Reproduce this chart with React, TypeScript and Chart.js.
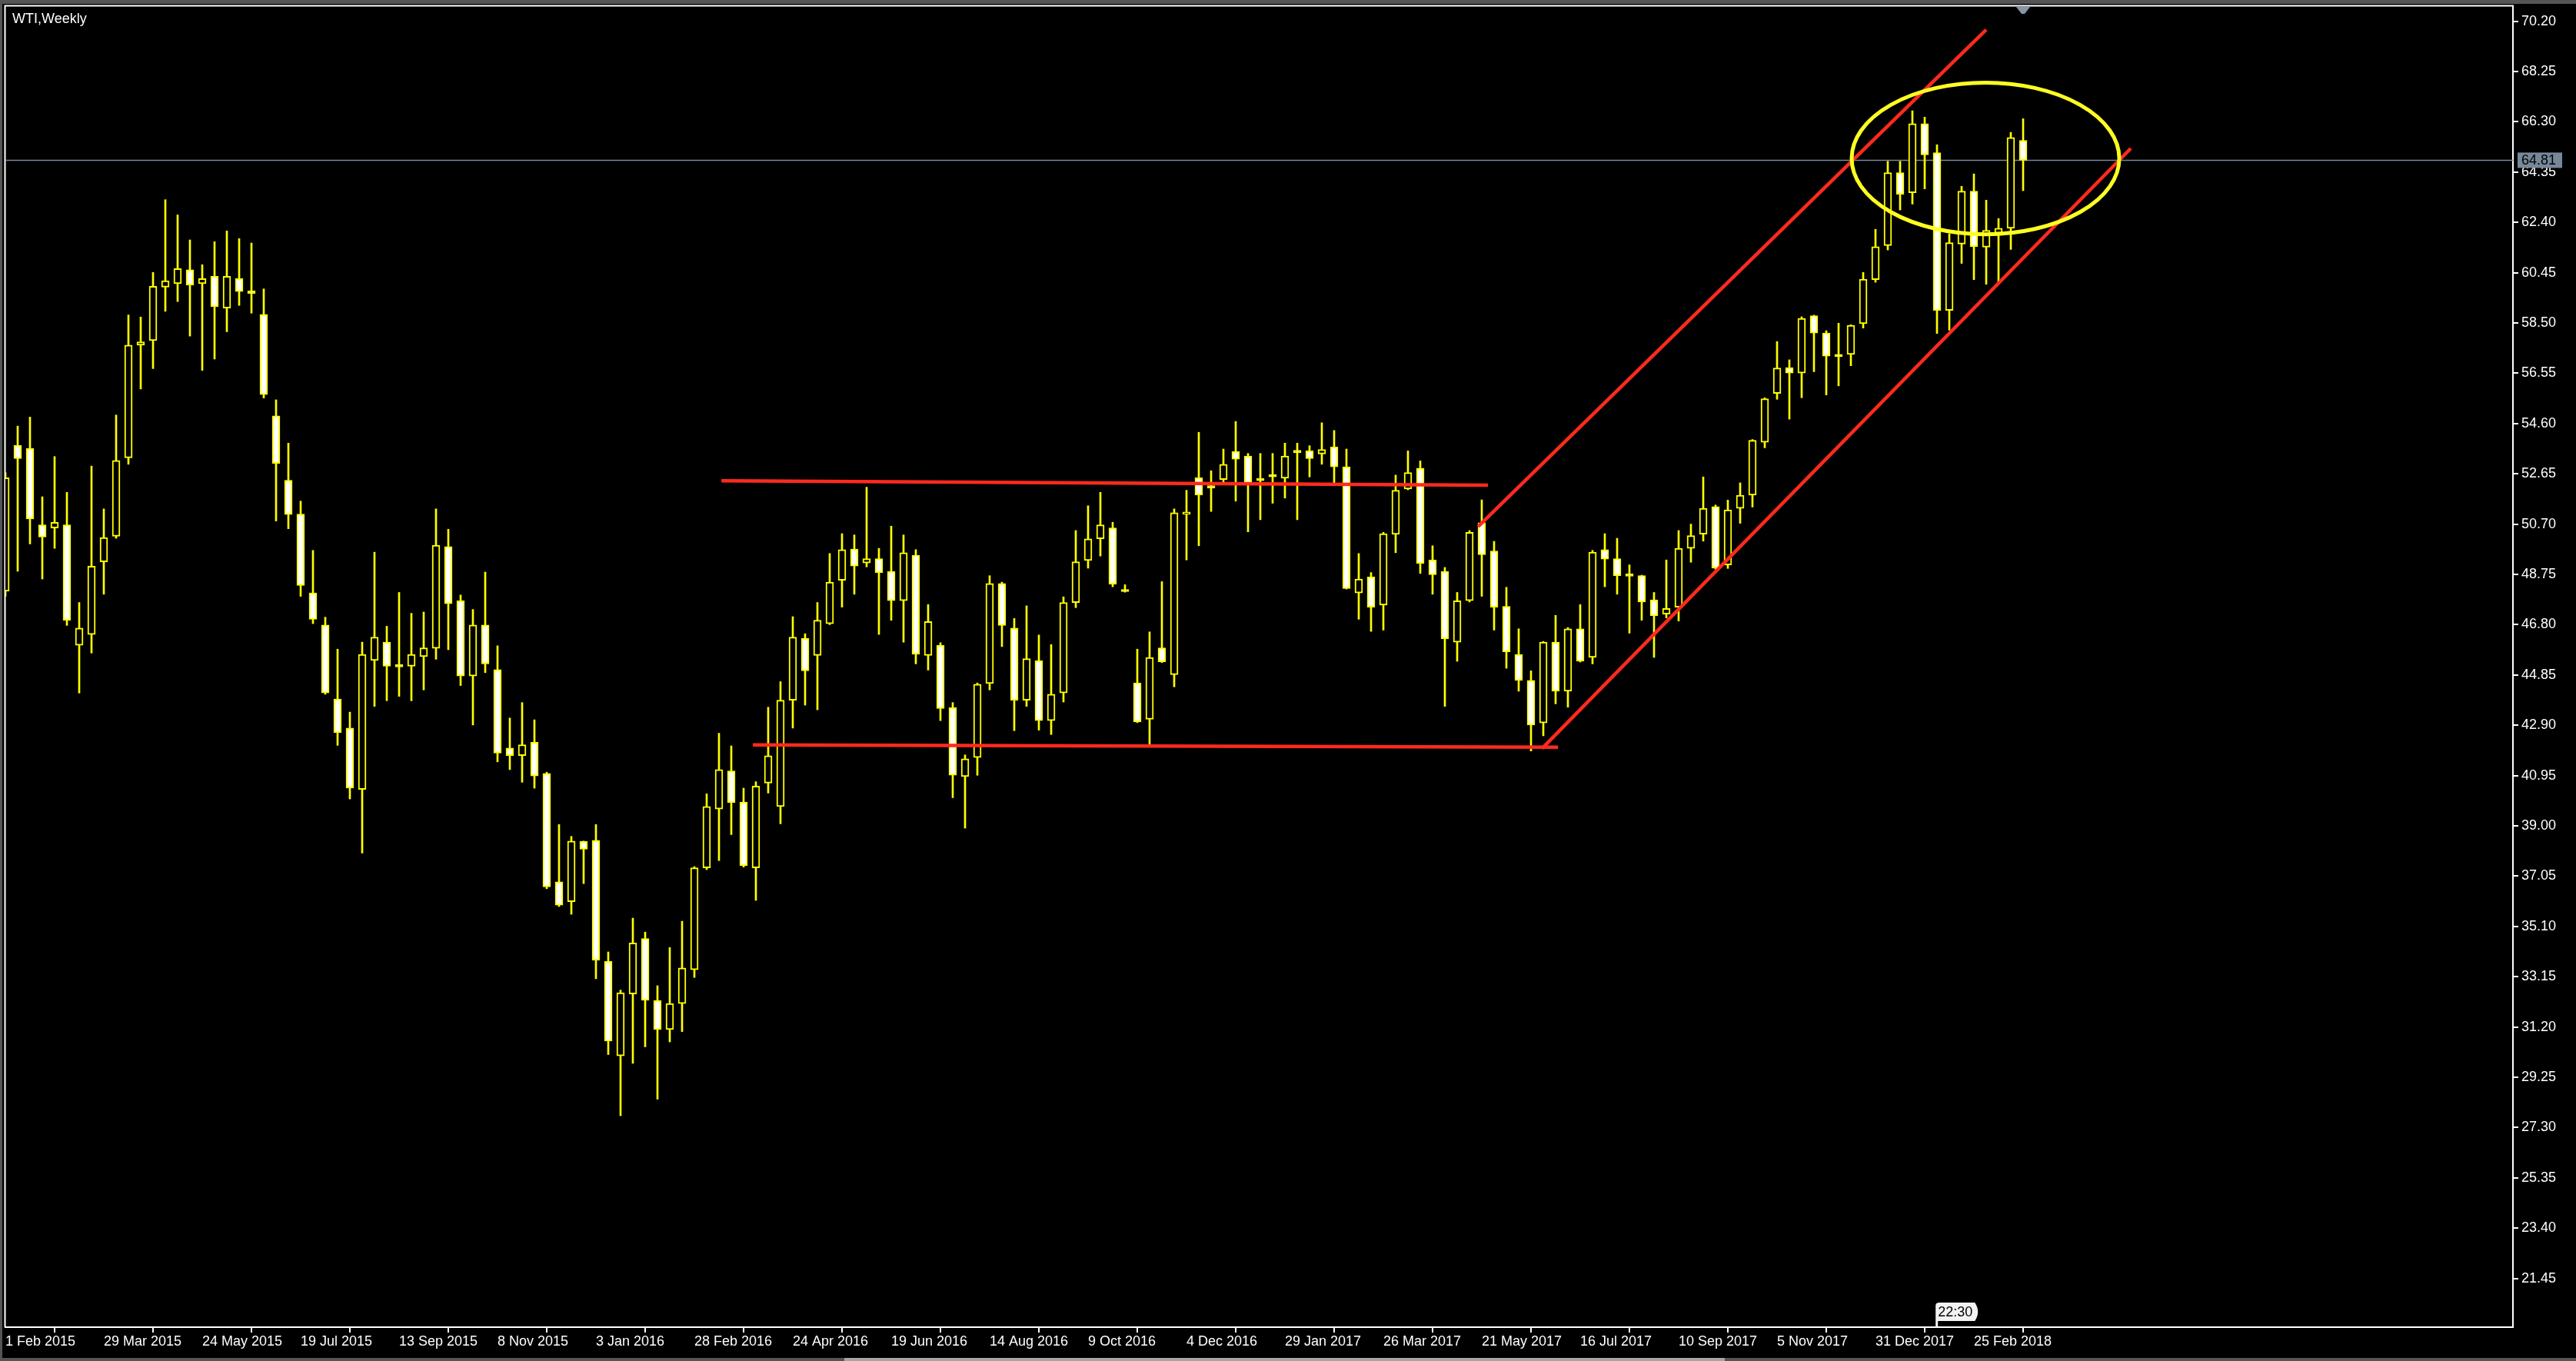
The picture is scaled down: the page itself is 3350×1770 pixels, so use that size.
import React, { useEffect, useRef } from 'react';
import { Chart, registerables } from 'chart.js';

Chart.register(...registerables);

// ---- Weekly WTI candles (index 0 = week of 1 Feb 2015) ----
const opens = [
  48.10, 53.76, 53.64, 50.67, 50.55, 50.67, 46.00, 46.42, 49.24, 50.23,
  53.27, 57.64, 57.82, 59.89, 60.02, 60.56, 60.02, 60.31, 59.08, 60.22,
  59.74, 58.83, 54.90, 52.40, 51.09, 48.03, 46.79, 43.92, 42.79, 40.41,
  45.41, 46.12, 45.24, 45.19, 45.56, 45.88, 49.83, 47.73, 44.81, 46.79,
  45.06, 42.02, 41.72, 42.24, 41.03, 36.83, 36.06, 38.39, 38.44, 33.74,
  30.08, 32.48, 34.63, 32.23, 31.10, 32.11, 33.42, 37.37, 39.65, 41.13,
  39.92, 37.37, 40.66, 39.75, 43.87, 46.27, 45.61, 46.84, 48.52, 49.73,
  49.19, 49.36, 48.87, 47.73, 49.49, 45.61, 46.00, 43.58, 40.91, 41.65,
  44.52, 48.40, 46.67, 43.87, 45.41, 43.08, 44.15, 47.66, 49.29, 50.13,
  50.55, 48.12, 44.54, 43.13, 45.90, 44.86, 51.08, 52.50, 52.15, 52.43,
  53.52, 53.34, 52.42, 52.57, 52.48, 53.51, 53.54, 53.42, 53.69, 52.92,
  48.03, 48.65, 47.56, 50.30, 52.06, 52.87, 49.31, 48.87, 46.12, 47.73,
  50.75, 49.66, 47.51, 45.65, 44.64, 42.99, 46.12, 44.22, 46.64, 45.53,
  49.71, 49.36, 48.72, 48.70, 47.76, 47.21, 47.48, 49.76, 50.31, 51.38,
  49.12, 51.31, 51.82, 53.87, 55.77, 56.77, 56.56, 58.78, 58.11, 57.23,
  57.28, 58.47, 60.18, 61.50, 64.33, 63.55, 66.23, 65.10, 58.99, 61.56,
  63.61, 61.44, 61.98, 62.17, 65.58,
];
const highs = [
  52.70, 54.50, 54.85, 51.76, 53.32, 51.93, 47.66, 52.95, 51.29, 54.93,
  58.81, 58.73, 60.46, 63.28, 62.69, 61.72, 60.76, 61.65, 62.07, 61.77,
  61.60, 59.82, 55.52, 53.84, 51.59, 49.68, 47.09, 45.85, 43.41, 46.12,
  49.61, 46.74, 48.05, 47.24, 47.29, 51.29, 50.50, 47.95, 47.39, 48.84,
  45.98, 43.18, 43.78, 43.11, 41.08, 39.05, 38.59, 38.41, 39.05, 34.11,
  32.63, 35.42, 34.88, 32.80, 34.28, 35.30, 37.42, 40.24, 42.59, 42.10,
  40.46, 40.71, 43.60, 44.59, 47.11, 46.45, 47.66, 49.56, 50.33, 50.28,
  52.13, 49.76, 50.62, 50.28, 49.71, 47.58, 46.10, 43.78, 41.75, 44.54,
  48.70, 48.45, 47.04, 47.53, 46.40, 46.03, 47.88, 50.45, 51.41, 51.93,
  50.77, 48.35, 45.85, 46.52, 48.47, 51.29, 52.01, 54.26, 52.77, 53.61,
  54.68, 53.44, 53.44, 53.44, 53.84, 53.84, 53.74, 54.63, 54.33, 53.61,
  49.56, 48.82, 50.38, 52.60, 53.54, 53.15, 49.86, 49.02, 48.05, 50.45,
  51.64, 50.03, 48.25, 46.64, 45.01, 46.15, 47.16, 46.69, 47.58, 49.68,
  50.33, 50.15, 49.12, 48.72, 48.05, 49.31, 50.45, 50.70, 52.53, 51.44,
  51.63, 52.30, 53.98, 55.60, 57.78, 57.07, 58.74, 58.80, 58.20, 58.49,
  58.43, 60.46, 62.13, 64.77, 64.77, 66.73, 66.48, 65.41, 61.96, 63.80,
  64.28, 63.26, 62.55, 65.89, 66.42,
];
const lows = [
  47.90, 48.87, 49.93, 48.57, 49.76, 46.77, 44.15, 45.70, 47.98, 50.15,
  53.02, 55.94, 56.73, 58.95, 59.33, 57.99, 56.66, 57.10, 58.16, 59.18,
  58.88, 55.59, 50.82, 50.52, 47.90, 46.84, 44.10, 42.12, 40.04, 37.94,
  43.63, 43.85, 44.02, 43.85, 44.27, 45.46, 45.83, 44.44, 42.91, 44.94,
  41.48, 41.18, 40.69, 40.46, 36.56, 35.87, 35.57, 36.76, 33.07, 30.13,
  27.76, 29.79, 30.43, 28.40, 30.62, 31.02, 33.12, 37.30, 37.65, 38.66,
  37.40, 36.11, 40.27, 39.08, 42.79, 43.68, 43.50, 46.80, 47.48, 47.98,
  49.04, 46.42, 46.97, 46.12, 45.28, 45.04, 43.08, 40.09, 38.91, 40.96,
  44.27, 45.95, 42.69, 43.63, 42.71, 42.54, 43.80, 47.46, 48.99, 49.46,
  48.27, 48.06, 43.00, 42.17, 45.33, 44.39, 49.31, 49.86, 51.19, 52.33,
  51.59, 50.40, 50.87, 51.51, 51.71, 50.87, 52.53, 53.02, 52.30, 48.18,
  47.01, 46.54, 46.59, 49.59, 52.03, 48.79, 47.98, 43.63, 45.38, 47.68,
  47.90, 46.59, 45.11, 44.22, 41.90, 42.49, 43.73, 43.60, 45.35, 45.28,
  48.27, 47.98, 46.47, 46.97, 45.53, 47.06, 46.94, 49.22, 50.04, 48.95,
  48.98, 50.73, 51.36, 53.66, 55.54, 54.77, 55.60, 56.61, 55.71, 56.06,
  56.84, 58.30, 60.08, 61.33, 62.88, 63.11, 63.70, 58.09, 58.22, 60.81,
  60.18, 60.00, 60.10, 61.35, 63.63,
];
const closes = [
  52.50, 53.24, 50.90, 50.20, 50.77, 46.97, 46.67, 49.07, 50.18, 53.17,
  57.64, 57.77, 59.92, 60.14, 60.61, 59.97, 60.22, 59.13, 60.31, 59.72,
  59.64, 55.72, 53.05, 51.07, 48.32, 47.01, 44.15, 42.61, 40.46, 45.65,
  46.32, 45.19, 45.16, 45.65, 45.90, 49.88, 47.61, 44.81, 46.79, 45.28,
  41.82, 41.72, 42.14, 40.93, 36.63, 35.92, 38.41, 38.09, 33.79, 30.65,
  32.53, 34.46, 32.23, 31.10, 32.11, 33.49, 37.37, 39.75, 41.18, 39.90,
  37.45, 40.54, 41.72, 43.87, 46.32, 45.01, 46.97, 48.45, 49.71, 49.07,
  49.36, 48.82, 47.73, 49.59, 45.65, 46.92, 43.55, 40.96, 41.60, 44.49,
  48.40, 46.77, 43.87, 45.48, 43.08, 44.10, 47.66, 49.24, 50.13, 50.67,
  48.37, 48.08, 43.03, 45.53, 45.36, 51.14, 51.12, 51.83, 52.10, 53.02,
  53.22, 52.30, 52.38, 52.53, 53.34, 53.47, 53.24, 53.59, 52.92, 48.20,
  48.57, 47.48, 50.33, 52.01, 52.70, 49.17, 48.74, 46.25, 47.73, 50.38,
  49.51, 47.48, 45.75, 44.64, 42.91, 46.12, 44.22, 46.64, 45.38, 49.61,
  49.34, 48.70, 48.68, 47.68, 47.14, 47.43, 49.76, 50.25, 51.31, 48.99,
  51.25, 51.82, 53.95, 55.56, 56.75, 56.56, 58.68, 58.11, 57.21, 57.19,
  58.41, 60.20, 61.46, 64.33, 63.49, 66.23, 65.02, 58.99, 61.61, 63.61,
  61.46, 62.09, 62.17, 65.69, 64.81,
];

// ---- Axis labels ----
const dateTickLabels = [
  '1 Feb 2015', '29 Mar 2015', '24 May 2015', '19 Jul 2015', '13 Sep 2015',
  '8 Nov 2015', '3 Jan 2016', '28 Feb 2016', '24 Apr 2016', '19 Jun 2016',
  '14 Aug 2016', '9 Oct 2016', '4 Dec 2016', '29 Jan 2017', '26 Mar 2017',
  '21 May 2017', '16 Jul 2017', '10 Sep 2017', '5 Nov 2017', '31 Dec 2017',
  '25 Feb 2018',
];
const barsPerDateTick = 8;
const priceTickLabels = [
  '21.45', '23.40', '25.35', '27.30', '29.25', '31.20', '33.15', '35.10', '37.05',
  '39.00', '40.95', '42.90', '44.85', '46.80', '48.75', '50.70', '52.65', '54.60',
  '56.55', '58.50', '60.45', '62.40', '64.35', '66.30', '68.25', '70.20',
];
const priceMin = 19.559;
const priceMax = 70.755;
const barMin = 0;
const barMax = 203.8125;
const chartTitle = 'WTI,Weekly';
const currentPrice = 64.81;
const timeMarker = { bar: 156.95, label: '22:30' };

// ---- Drawn objects (bar index, price) ----
const resistanceLine = [{ x: 58.2, y: 52.38 }, { x: 120.5, y: 52.21 }];
const supportLine = [{ x: 60.75, y: 42.14 }, { x: 126.2, y: 42.05 }];
const channelUpper = [{ x: 119.7, y: 50.6 }, { x: 161.0, y: 69.87 }];
const channelLower = [{ x: 124.9, y: 42.0 }, { x: 172.75, y: 65.27 }];
const ellipseCenter = { x: 160.94, y: 64.88 };
const ellipseRadius = { x: 10.875, y: 2.94 };

const FONT = '"Liberation Sans", Arial, sans-serif';
const YELLOW = '#ffff00';
const RED = '#ff2a1e';
const SLATE = '#778899';

const mt4Plugin = {
  id: 'mt4',
  beforeDraw(chart: any) {
    const { ctx, width, height, chartArea } = chart;
    ctx.save();
    ctx.fillStyle = '#000000';
    ctx.fillRect(0, 0, width, height);
    ctx.fillStyle = '#555555';
    ctx.fillRect(0, 0, width, 5);
    ctx.fillRect(0, 0, 3, height);
    ctx.fillRect(0, height - 4, width, 4);
    ctx.fillStyle = '#a6a6a6';
    ctx.fillRect(1098, height - 4, 1145, 4);
    ctx.strokeStyle = '#ffffff';
    ctx.lineWidth = 2;
    ctx.beginPath();
    ctx.moveTo(chartArea.left - 0.5, chartArea.bottom);
    ctx.lineTo(chartArea.left - 0.5, chartArea.top - 1.5);
    ctx.lineTo(chartArea.right + 1, chartArea.top - 1.5);
    ctx.stroke();
    ctx.restore();
  },
  beforeDatasetsDraw(chart: any) {
    const { ctx, chartArea, scales } = chart;
    const y = scales.y.getPixelForValue(currentPrice);
    ctx.save();
    ctx.strokeStyle = SLATE;
    ctx.lineWidth = 1.5;
    ctx.beginPath();
    ctx.moveTo(chartArea.left, y);
    ctx.lineTo(chartArea.right, y);
    ctx.stroke();
    ctx.restore();
  },
  afterDatasetsDraw(chart: any) {
    const { ctx, scales } = chart;
    const cx = scales.x.getPixelForValue(ellipseCenter.x);
    const cy = scales.y.getPixelForValue(ellipseCenter.y);
    const rx = Math.abs(scales.x.getPixelForValue(ellipseCenter.x + ellipseRadius.x) - cx);
    const ry = Math.abs(scales.y.getPixelForValue(ellipseCenter.y + ellipseRadius.y) - cy);
    ctx.save();
    ctx.strokeStyle = '#ffff22';
    ctx.lineWidth = 5;
    ctx.beginPath();
    ctx.ellipse(cx, cy, rx, ry, 0, 0, Math.PI * 2);
    ctx.stroke();
    ctx.restore();
  },
  afterDraw(chart: any) {
    const { ctx, chartArea, scales } = chart;
    ctx.save();
    // title
    ctx.fillStyle = '#ffffff';
    ctx.font = `18px ${FONT}`;
    ctx.textAlign = 'left';
    ctx.textBaseline = 'alphabetic';
    ctx.fillText(chartTitle, 16, 30);

    // current price label
    const py = scales.y.getPixelForValue(currentPrice);
    ctx.fillStyle = SLATE;
    ctx.fillRect(chartArea.right + 6, py - 10, 58, 20);
    ctx.fillStyle = '#000000';
    ctx.textBaseline = 'middle';
    ctx.fillText(currentPrice.toFixed(2), chartArea.right + 11, py + 1);

    // chart shift marker
    const sx = scales.x.getPixelForValue(opens.length - 1);
    ctx.fillStyle = '#8796a6';
    ctx.beginPath();
    ctx.moveTo(sx - 9, chartArea.top);
    ctx.lineTo(sx + 9, chartArea.top);
    ctx.lineTo(sx + 2, chartArea.top + 9);
    ctx.lineTo(sx - 2, chartArea.top + 9);
    ctx.closePath();
    ctx.fill();

    // time marker
    const tx = scales.x.getPixelForValue(timeMarker.bar);
    const by = chartArea.bottom;
    const top = by - 32;
    const bot = by - 8;
    ctx.fillStyle = '#f2f2f2';
    ctx.beginPath();
    ctx.moveTo(tx + 4, top);
    ctx.lineTo(tx + 50, top);
    ctx.quadraticCurveTo(tx + 58, top + 12, tx + 50, bot);
    ctx.lineTo(tx + 2, bot);
    ctx.lineTo(tx + 2, by);
    ctx.lineTo(tx - 1, by);
    ctx.lineTo(tx - 1, top + 4);
    ctx.quadraticCurveTo(tx - 1, top, tx + 4, top);
    ctx.closePath();
    ctx.fill();
    ctx.fillStyle = '#000000';
    ctx.textBaseline = 'middle';
    ctx.fillText(timeMarker.label, tx + 2, top + 13);
    ctx.restore();
  },
};

const zeroPadding = (scale: any) => {
  scale.paddingTop = 0;
  scale.paddingBottom = 0;
  scale.paddingLeft = 0;
  scale.paddingRight = 0;
};

export default function App() {
  const ref = useRef<HTMLCanvasElement>(null);

  useEffect(() => {
    document.body.style.margin = '0';
    document.body.style.overflow = 'hidden';
    document.body.style.background = '#000';
    const canvas = ref.current;
    if (!canvas) return;

    const bodies = opens.map((o, i) => ({ x: i, y: [Math.min(o, closes[i]), Math.max(o, closes[i])] }));
    const bodyFill = opens.map((o, i) => (closes[i] >= o ? '#000000' : '#ffffff'));
    const wicks = lows.map((l, i) => ({ x: i, y: [l, highs[i]] }));

    const lineDs = (data: { x: number; y: number }[]) => ({
      type: 'line' as const,
      data,
      borderColor: RED,
      borderWidth: 4.5,
      pointRadius: 0,
      fill: false,
      tension: 0,
      order: 0,
    });

    const chart = new Chart(canvas, {
      type: 'bar',
      data: {
        datasets: [
          lineDs(resistanceLine),
          lineDs(supportLine),
          lineDs(channelUpper),
          lineDs(channelLower),
          {
            type: 'bar',
            data: bodies as any,
            backgroundColor: bodyFill,
            borderColor: YELLOW,
            borderWidth: 2,
            borderSkipped: false,
            barThickness: 10,
            minBarLength: 3,
            grouped: false,
            order: 1,
          } as any,
          {
            type: 'bar',
            data: wicks as any,
            backgroundColor: YELLOW,
            borderWidth: 0,
            barThickness: 2,
            grouped: false,
            order: 2,
          } as any,
        ],
      },
      options: {
        responsive: false,
        animation: false,
        devicePixelRatio: 1,
        events: [],
        layout: { padding: { left: 7, top: 9, right: 0, bottom: 0 } },
        plugins: { legend: { display: false }, tooltip: { enabled: false }, title: { display: false } },
        scales: {
          x: {
            type: 'linear',
            min: barMin,
            max: barMax,
            offset: false,
            afterBuildTicks: (scale: any) => {
              scale.ticks = dateTickLabels.map((_, k) => ({ value: k * barsPerDateTick }));
            },
            afterFit: (scale: any) => {
              scale.height = 44;
              zeroPadding(scale);
            },
            ticks: {
              autoSkip: false,
              maxRotation: 0,
              minRotation: 0,
              align: 'start',
              color: '#ffffff',
              padding: 1,
              font: { family: FONT, size: 18 },
              callback: (_v: any, idx: number) => dateTickLabels[idx],
            },
            grid: { display: true, drawOnChartArea: false, drawTicks: true, tickLength: 7, color: '#ffffff', lineWidth: 2 },
            border: { display: true, color: '#ffffff', width: 2 },
          },
          y: {
            type: 'linear',
            position: 'right',
            min: priceMin,
            max: priceMax,
            afterBuildTicks: (scale: any) => {
              scale.ticks = priceTickLabels.map((s) => ({ value: parseFloat(s) }));
            },
            afterFit: (scale: any) => {
              scale.width = 82;
              zeroPadding(scale);
            },
            ticks: {
              autoSkip: false,
              color: '#ffffff',
              padding: 4,
              font: { family: FONT, size: 18 },
              callback: (_v: any, idx: number) => priceTickLabels[idx],
            },
            grid: { display: true, drawOnChartArea: false, drawTicks: true, tickLength: 7, color: '#ffffff', lineWidth: 2 },
            border: { display: true, color: '#ffffff', width: 2 },
          },
        },
      } as any,
      plugins: [mt4Plugin],
    });

    return () => chart.destroy();
  }, []);

  return <canvas ref={ref} width={3350} height={1770} style={{ display: 'block', width: 3350, height: 1770 }} />;
}
